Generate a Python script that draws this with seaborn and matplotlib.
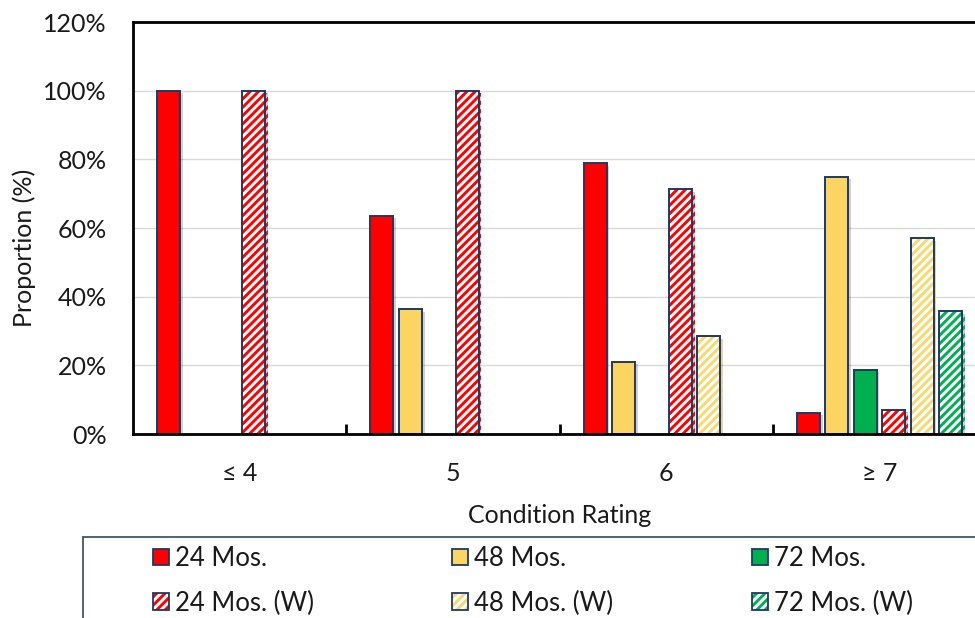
import numpy as np
import pandas as pd
import seaborn as sns
import matplotlib
matplotlib.use("Agg")
import matplotlib.pyplot as plt
from matplotlib.patches import Rectangle, Patch
from matplotlib.lines import Line2D
from matplotlib.ticker import PercentFormatter, FixedLocator
import matplotlib.patheffects as pe
from matplotlib.legend_handler import HandlerTuple

# ---- data ----
categories = ["≤ 4", "5", "6", "≥ 7"]
series = ["24 Mos.", "48 Mos.", "72 Mos.", "24 Mos. (W)", "48 Mos. (W)", "72 Mos. (W)"]
v24 = [100, 63.6, 78.9, 6.25]
v48 = [0, 36.4, 21.1, 75.0]
v72 = [0, 0, 0, 18.75]
v24w = [100, 100, 71.4, 7.1]
v48w = [0, 0, 28.6, 57.1]
v72w = [0, 0, 0, 35.7]
yticks = [0, 20, 40, 60, 80, 100, 120]
xlabel = "Condition Rating"
ylabel = "Proportion (%)"

# ---- style ----
sns.set_theme(style="white")
plt.rcParams["font.family"] = ["Lato", "DejaVu Sans"]
plt.rcParams["hatch.linewidth"] = 2.1

NAVY = "#1F3864"
TXT = "#1a1a1a"
FS = 18
LFS = 18.5
HATCH = "////"
series_colors = ["#FF0000", "#FCD462", "#00B050", "#FF0000", "#F8D870", "#00B050"]
hatched = [False, False, False, True, True, True]

values = [v24, v48, v72, v24w, v48w, v72w]
rows = []
for s, vals in zip(series, values):
    for c, v in zip(categories, vals):
        rows.append({"Rating": c, "Series": s, "Proportion": v})
df = pd.DataFrame(rows)

fig = plt.figure(figsize=(9.75, 6.18), dpi=100)
ax = fig.add_axes([133 / 975, 1 - 434 / 618, (986 - 133) / 975, (434 - 22) / 618])

sns.barplot(data=df, x="Rating", y="Proportion", hue="Series", order=categories,
            hue_order=series, palette=series_colors, saturation=1, width=0.8, gap=0.19,
            edgecolor=NAVY, linewidth=1.4, legend=False, ax=ax, errorbar=None)

shadow = [pe.SimplePatchShadow(offset=(2, -2), shadow_rgbFace="black", alpha=0.18), pe.Normal()]
for i, cont in enumerate(ax.containers):
    for bar in cont:
        if bar.get_height() == 0:
            bar.set_visible(False)
            continue
        bar.set_path_effects(shadow)
        if hatched[i]:
            bar.set_facecolor("white")
            bar.set_edgecolor(series_colors[i])
            bar.set_linewidth(0)
            bar.set_hatch(HATCH)
            ax.add_patch(Rectangle(bar.get_xy(), bar.get_width(), bar.get_height(),
                                   fill=False, edgecolor=NAVY, linewidth=1.4, zorder=bar.get_zorder() + 0.1))

ax.set_ylim(0, 120)
ax.yaxis.set_major_locator(FixedLocator(yticks))
ax.yaxis.set_major_formatter(PercentFormatter(100, decimals=0))
ax.set_xlim(-0.5, len(categories) - 0.5)
ax.set_axisbelow(True)
ax.grid(axis="y", color="#D9D9D9", linewidth=1)
ax.grid(axis="x", visible=False)

for side in ["left", "bottom", "top"]:
    ax.spines[side].set_visible(True)
    ax.spines[side].set_color("black")
    ax.spines[side].set_linewidth(2)
ax.spines["right"].set_visible(False)

ax.xaxis.set_minor_locator(FixedLocator(np.arange(0.5, len(categories) - 0.5, 1)))
ax.tick_params(axis="x", which="major", length=0, pad=20, labelsize=FS, colors=TXT)
ax.tick_params(axis="x", which="minor", length=7, width=2, direction="in", color="black", bottom=True)
ax.tick_params(axis="y", which="major", length=0, pad=19, labelsize=FS, colors=TXT)

ax.set_xlabel(xlabel, fontsize=FS, color=TXT)
ax.set_ylabel(ylabel, fontsize=FS, color=TXT)
ax.xaxis.set_label_coords(0.5, (434 - 504) / 412)
ax.yaxis.set_label_coords((36 - 133) / 853, (434 - 248) / 412)

# legend frame (box runs off the right and bottom edges)
ytop = 1 - 537 / 618
x0 = 83 / 975
fig.add_artist(Line2D([x0, 1.0], [ytop, ytop], transform=fig.transFigure, color="#44546A", linewidth=1.3))
fig.add_artist(Line2D([x0, x0], [0.0, ytop], transform=fig.transFigure, color="#44546A", linewidth=1.3))

handles = []
for i, s in enumerate(series):
    if hatched[i]:
        h = (Patch(facecolor="white", edgecolor=series_colors[i], linewidth=0, hatch=HATCH),
             Patch(fill=False, edgecolor=NAVY, linewidth=1.3))
    else:
        h = Patch(facecolor=series_colors[i], edgecolor=NAVY, linewidth=1.3)
    handles.append(h)

col_x = [153, 452, 752]
for j in range(3):
    fig.legend([handles[j], handles[j + 3]], [series[j], series[j + 3]], ncol=1,
               loc="upper left", bbox_to_anchor=(col_x[j] / 975, 1 - 546 / 618),
               frameon=False, borderpad=0, borderaxespad=0,
               handlelength=0.62, handleheight=0.62, handletextpad=0.25, labelspacing=0.76,
               fontsize=LFS, labelcolor=TXT,
               handler_map={tuple: HandlerTuple(ndivide=1, pad=0)})

fig.savefig("out.png", dpi=100)
